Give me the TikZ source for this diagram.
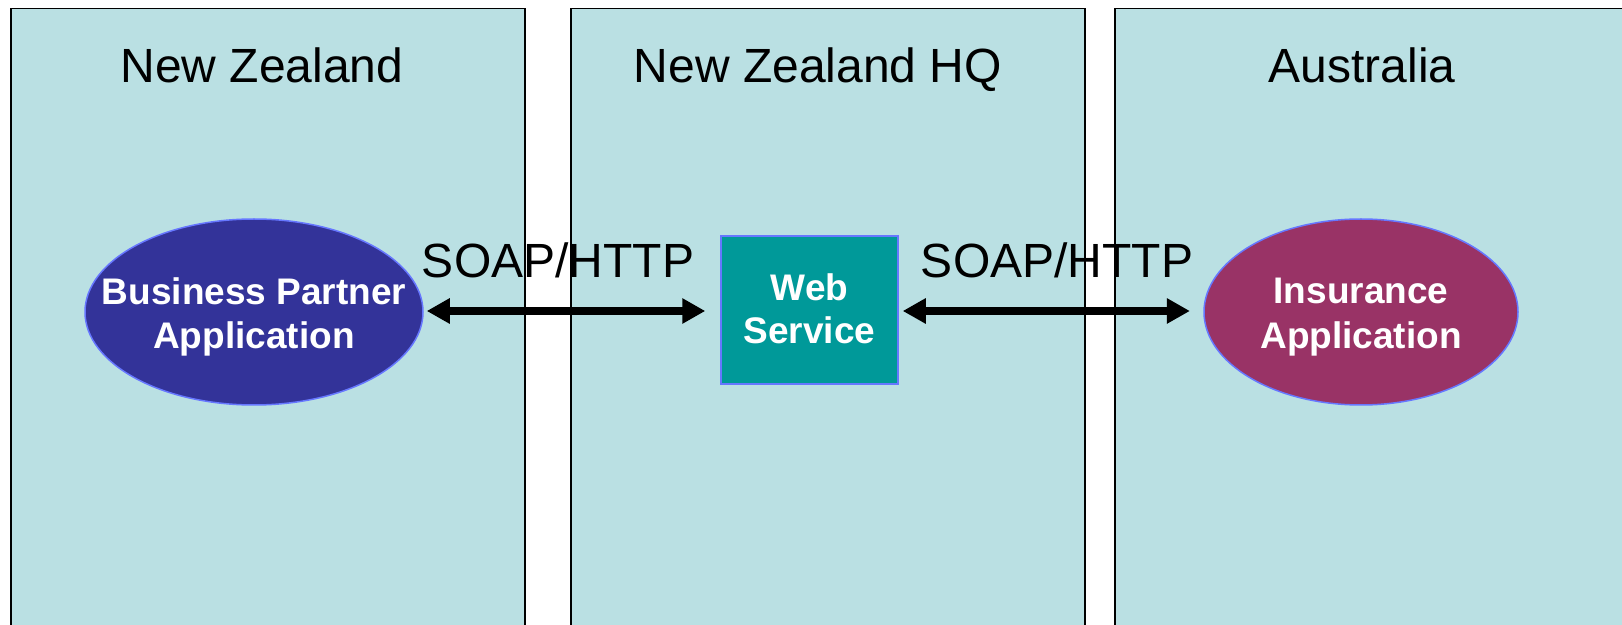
\documentclass[tikz,border=0pt]{standalone}
\usepackage{fontspec}
\setmainfont{Liberation Sans}
\usetikzlibrary{arrows.meta,shapes.geometric}
\definecolor{panelbg}{RGB}{186,224,227}
\definecolor{bpcol}{RGB}{51,51,153}
\definecolor{inscol}{RGB}{153,51,102}
\definecolor{wscol}{RGB}{0,153,153}
\definecolor{edgeblue}{RGB}{102,119,255}
\newcommand{\twolines}[3]{\raisebox{-#1}[\height][\depth]{\makebox[0pt]{\begin{tabular}{@{}c@{}}#2\\#3\end{tabular}}}}
\tikzset{
  panel/.style={draw=black, line width=0.75pt, fill=panelbg, anchor=north west, inner sep=0pt, minimum height=330pt},
  title/.style={anchor=base, inner sep=0pt, font=\fontsize{24pt}{28pt}\selectfont},
  proto/.style={anchor=base, inner sep=0pt, font=\fontsize{24pt}{28pt}\selectfont},
  app/.style={ellipse, draw=edgeblue, line width=0.75pt, inner sep=0pt, minimum height=93pt,
    text=white, font=\bfseries\fontsize{18.5pt}{22.2pt}\selectfont},
  svc/.style={rectangle, draw=edgeblue, line width=0.75pt, fill=wscol, inner sep=0pt,
    minimum width=88.5pt, minimum height=74pt, text=white,
    font=\bfseries\fontsize{18.5pt}{21.65pt}\selectfont},
  link/.style={line width=4pt, {Triangle[length=11.5pt,width=12pt]}-{Triangle[length=11.5pt,width=12pt]}}
}
\begin{document}
\begin{tikzpicture}[x=0.5pt,y=-0.5pt]
\useasboundingbox (0,0) rectangle (1622,625);
\clip (0,0) rectangle (1622,625);
\fill[white] (0,0) rectangle (1622,625);
\node[panel, minimum width=257pt] (p1) at (10,8) {};
\node[panel, minimum width=257pt] (p2) at (570,8) {};
\node[panel, minimum width=270pt] (p3) at (1114,8) {};
\node[title] (t1) at (262,83) {New Zealand};
\node[title] (t2) at (818,83) {New Zealand HQ};
\node[title] (t3) at (1362,83) {Australia};
\node[app, fill=bpcol, minimum width=169pt] (bp) at (254,312) {\twolines{2.8pt}{Business Partner}{Application}};
\node[app, fill=inscol, minimum width=157pt] (ins) at (1361,312) {\twolines{2.5pt}{Insurance}{Application}};
\node[svc] (ws) at (809.5,310) {\twolines{1.5pt}{Web}{Service}};
\node[proto] (s1) at (558,278) {SOAP/HTTP};
\node[proto] (s2) at (1057,278) {SOAP/HTTP};
\draw[link, shorten <=1.5pt, shorten >=7.5pt] (bp.east |- 0,311) -- (ws.west |- 0,311);
\draw[link, shorten <=2pt, shorten >=6.7pt] (ws.east |- 0,311) -- (ins.west |- 0,311);
\end{tikzpicture}
\end{document}
